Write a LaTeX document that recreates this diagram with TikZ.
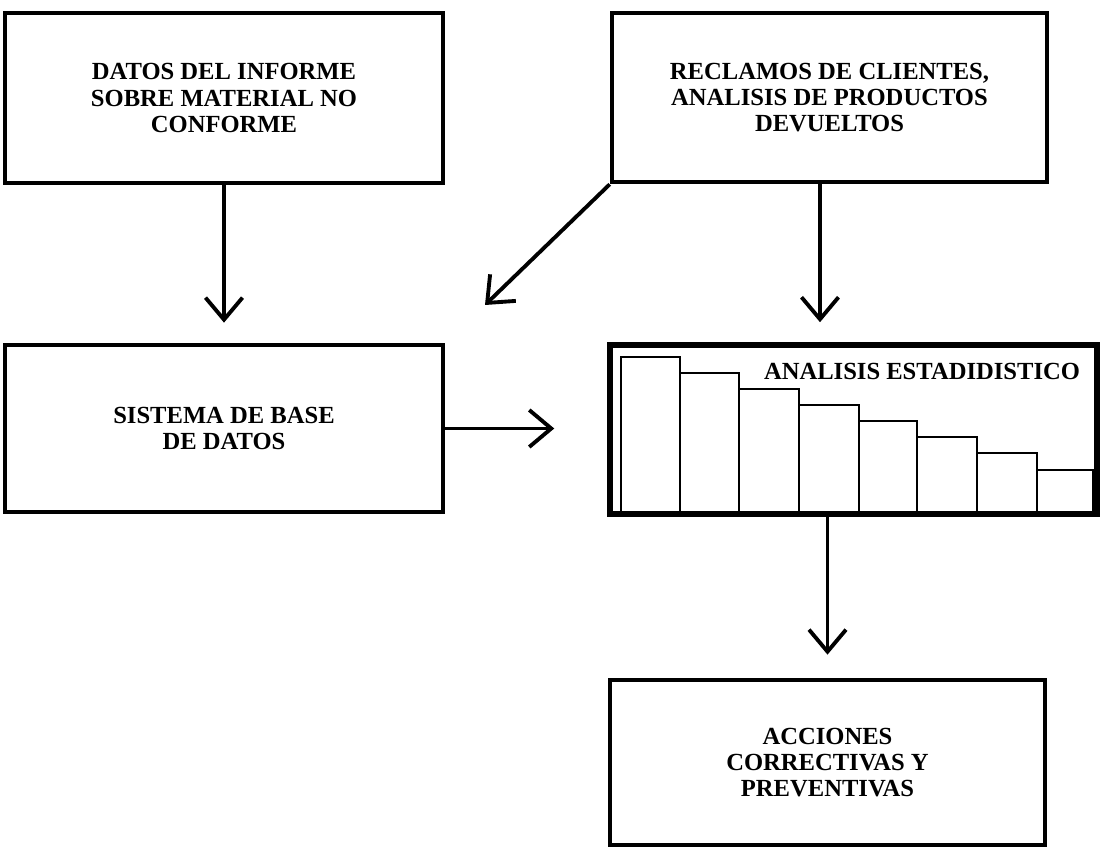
\documentclass[tikz,border=0pt]{standalone}
\usepackage{fontspec}
\setmainfont{Liberation Serif}
\usetikzlibrary{arrows.meta}

\begin{document}
\begin{tikzpicture}[x=0.02cm, y=-0.02cm, >={Straight Barb[length=4.4mm,width=7.4mm]}]

\tikzset{%
every box/.style={
draw,
line width=2.7pt,
align=center,
inner sep=0pt,
font=\fontsize{14}{15}\selectfont\bfseries
},
box wide/.style={
minimum width=8.76cm,
minimum height=3.4cm
},
flow/.style={
->,
line width=2.2pt
},
bar/.style={
line width=1.1pt
},
}

\useasboundingbox (0,0) rectangle (1101,847);

% Bars of the chart inside the analysis box
\foreach \l/\r/\t in {621/680/357, 680/739/373, 739/799/389, 799/859/405,
                      859/917/421, 917/977/437, 977/1037/453, 1037/1093/470}
\draw [bar] (\l,512) -- (\l,\t) -- (\r,\t) -- (\r,512);

% Boxes
\node [every box, box wide] (informe) at (224,98) {DATOS DEL INFORME\\SOBRE MATERIAL NO\\CONFORME};
\node [every box, minimum width=8.7cm, minimum height=3.38cm] (reclamos) at (829.5,97.5) {RECLAMOS DE CLIENTES,\\ANALISIS DE PRODUCTOS\\DEVUELTOS};
\node [every box, minimum width=8.76cm, minimum height=3.34cm] (base-datos) at (224,428.5) {SISTEMA DE BASE\\DE DATOS};
\node [every box, line width=3.2pt, minimum width=9.74cm, minimum height=3.38cm] (analisis) at (853.5,429.5) {};
\node [font=\fontsize{14}{15}\selectfont\bfseries, inner sep=0pt] (analisis-titulo) at (922,371) {ANALISIS ESTADIDISTICO};
\node [every box, minimum width=8.7cm, minimum height=3.3cm] (acciones) at (827.5,762.5) {ACCIONES\\CORRECTIVAS Y\\PREVENTIVAS};

% Free end of the diagonal arrow
\coordinate (llegada) at (485,305);

% Arrows between boxes
\draw [flow, shorten >=0.4cm] (informe.south) -- (base-datos.north);
\draw [flow] (reclamos.south west) -- (llegada);
\draw [flow, shorten >=0.4cm] ([xshift=-0.19cm]reclamos.south) -- ([xshift=-0.19cm]reclamos.south |- analisis.north);
\draw [flow, shorten >=1.06cm] (base-datos.east) -- (base-datos.east -| analisis.west);
\draw [flow, shorten >=0.46cm] (acciones.north |- analisis.south) -- (acciones.north);

\end{tikzpicture}
\end{document}
